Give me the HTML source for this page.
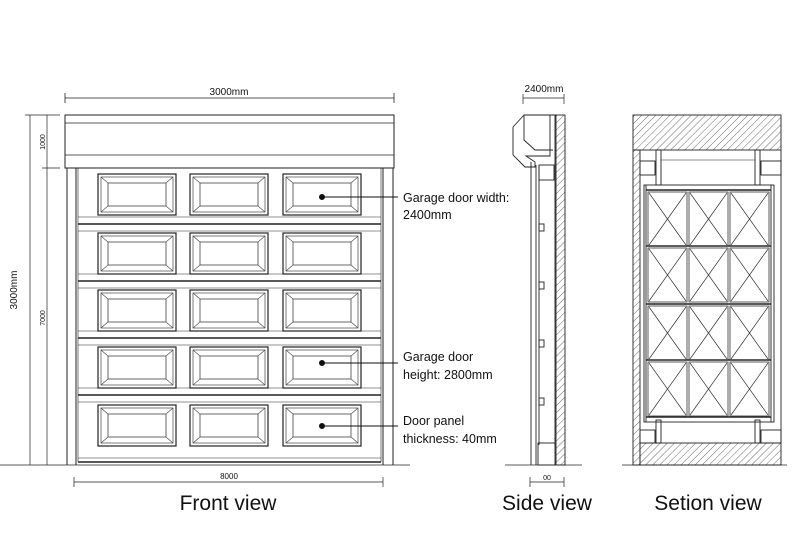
<!DOCTYPE html>
<html><head><meta charset="utf-8"><style>
html,body{margin:0;padding:0;background:#fff;}
svg{display:block;}
text{font-family:"Liberation Sans",sans-serif;fill:#111;}
</style></head><body>
<svg width="800" height="533" viewBox="0 0 800 533" xmlns="http://www.w3.org/2000/svg">
<defs>
<pattern id="h" width="5" height="5" patternUnits="userSpaceOnUse" patternTransform="rotate(45)">
<line x1="0" y1="0" x2="0" y2="5" stroke="#444" stroke-width="0.8"/>
</pattern>
<g id="pan">
<rect x="0" y="0" width="78" height="41" fill="none" stroke="#222" stroke-width="1.2"/>
<rect x="3" y="3" width="72" height="35" fill="none" stroke="#444" stroke-width="0.7"/>
<rect x="10" y="9" width="58" height="23" fill="none" stroke="#444" stroke-width="0.8"/>
<path d="M3 3L10 9M75 3L68 9M3 38L10 32M75 38L68 32" stroke="#444" stroke-width="0.6"/>
</g>
<g id="row">
<use href="#pan" x="98"/><use href="#pan" x="190"/><use href="#pan" x="283"/>
</g>
<g id="cell">
<rect x="0" y="0" width="39" height="54" fill="none" stroke="#333" stroke-width="0.8"/>
<path d="M1 1L38 53M38 1L1 53" stroke="#333" stroke-width="0.7"/>
</g>
</defs>
<g fill="none" stroke="#222" stroke-width="1">
<!-- front view -->
<line x1="65" y1="98" x2="394" y2="98" stroke-width="0.8"/>
<path d="M65 93V103M394 93V103" stroke-width="0.8"/>
<rect x="65" y="115" width="329" height="53"/>
<line x1="65" y1="123" x2="394" y2="123" stroke-width="0.7"/>
<line x1="65" y1="155" x2="394" y2="155" stroke-width="0.7"/>
<line x1="67" y1="168" x2="67" y2="465"/>
<line x1="76" y1="168" x2="76" y2="465"/>
<line x1="383" y1="168" x2="383" y2="465"/>
<line x1="393" y1="168" x2="393" y2="465"/>
<line x1="78" y1="168" x2="78" y2="462" stroke-width="0.6"/>
<line x1="381" y1="168" x2="381" y2="462" stroke-width="0.6"/>
<g stroke-width="1.6">
<line x1="78" y1="224" x2="381" y2="224"/><line x1="78" y1="281" x2="381" y2="281"/>
<line x1="78" y1="338" x2="381" y2="338"/><line x1="78" y1="395" x2="381" y2="395"/>
<line x1="78" y1="462" x2="381" y2="462"/>
</g>
<g stroke-width="0.6">
<line x1="78" y1="217" x2="381" y2="217"/><line x1="78" y1="231" x2="381" y2="231"/>
<line x1="78" y1="274" x2="381" y2="274"/><line x1="78" y1="288" x2="381" y2="288"/>
<line x1="78" y1="331" x2="381" y2="331"/><line x1="78" y1="345" x2="381" y2="345"/>
<line x1="78" y1="388" x2="381" y2="388"/><line x1="78" y1="402" x2="381" y2="402"/>
<line x1="78" y1="458" x2="381" y2="458"/>
</g>
<line x1="0" y1="465" x2="410" y2="465" stroke-width="0.8"/>
<line x1="74" y1="482" x2="383" y2="482" stroke-width="0.7"/>
<path d="M74 477V487M383 477V487" stroke-width="0.7"/>
<line x1="30" y1="115" x2="30" y2="465" stroke-width="0.7"/>
<line x1="47" y1="115" x2="47" y2="465" stroke-width="0.7"/>
<path d="M25 115H60M42 168H60" stroke-width="0.7"/>
</g>
<use href="#row" y="174"/><use href="#row" y="233"/><use href="#row" y="290"/><use href="#row" y="347"/><use href="#row" y="405"/>
<g stroke="#111" stroke-width="1">
<line x1="322" y1="197" x2="398" y2="197"/><circle cx="322" cy="197" r="2.5" fill="#111"/>
<line x1="322" y1="363" x2="398" y2="363"/><circle cx="322" cy="363" r="2.5" fill="#111"/>
<line x1="322" y1="426" x2="398" y2="426"/><circle cx="322" cy="426" r="2.5" fill="#111"/>
</g>
<text x="229" y="95" font-size="10" text-anchor="middle">3000mm</text>
<text x="229" y="479" font-size="8" text-anchor="middle" fill="#555">8000</text>
<text transform="translate(17,290) rotate(-90)" font-size="10" text-anchor="middle">3000mm</text>
<text transform="translate(45,142) rotate(-90)" font-size="7" text-anchor="middle" fill="#555">1000</text>
<text transform="translate(45,318) rotate(-90)" font-size="7" text-anchor="middle" fill="#555">7000</text>
<text x="403" y="202" font-size="12.5">Garage door width:</text>
<text x="403" y="219" font-size="12.5">2400mm</text>
<text x="403" y="361" font-size="12.5">Garage door</text>
<text x="403" y="379" font-size="12.5">height: 2800mm</text>
<text x="403" y="425" font-size="12.5">Door panel</text>
<text x="403" y="443" font-size="12.5">thickness: 40mm</text>
<text x="228" y="510" font-size="21" text-anchor="middle">Front view</text>
<!-- side view -->
<g fill="none" stroke="#222" stroke-width="0.9">
<line x1="523" y1="98" x2="564" y2="98" stroke-width="0.7"/>
<path d="M523 94V104M564 94V104" stroke-width="0.7"/>
<rect x="556" y="115" width="9" height="350" fill="url(#h)"/>
<path d="M524 115H556M513 127L524 115M513 127V155L525 167H535V162L526 156H550V115"/>
<path d="M524 115V140L535 150H553"/>
<line x1="531" y1="162" x2="531" y2="465"/>
<line x1="536" y1="165" x2="536" y2="465"/>
<line x1="539" y1="165" x2="539" y2="445"/>
<line x1="555" y1="115" x2="555" y2="445"/>
<rect x="539" y="165" width="15" height="15"/>
<rect x="539" y="224" width="5" height="7"/><rect x="539" y="282" width="5" height="7"/>
<rect x="539" y="340" width="5" height="7"/><rect x="539" y="398" width="5" height="7"/>
<rect x="538" y="443" width="17" height="22"/>
<line x1="505" y1="465" x2="582" y2="465" stroke-width="0.8"/>
<line x1="530" y1="482" x2="564" y2="482" stroke-width="0.7"/>
<path d="M530 477V487M564 477V487" stroke-width="0.7"/>
</g>
<text x="544" y="92" font-size="10" text-anchor="middle">2400mm</text>
<text x="547" y="480" font-size="7" text-anchor="middle" fill="#555">00</text>
<text x="547" y="510" font-size="21" text-anchor="middle">Side view</text>
<!-- section view -->
<g fill="none" stroke="#222" stroke-width="0.9">
<rect x="633" y="115" width="148" height="35" fill="url(#h)"/>
<rect x="633" y="150" width="7" height="315" fill="url(#h)"/>
<rect x="640" y="443" width="141" height="22" fill="url(#h)"/>
<line x1="781" y1="150" x2="781" y2="443"/>
<line x1="622" y1="465" x2="787" y2="465" stroke-width="0.8"/>
<rect x="640" y="161" width="15" height="14"/><rect x="761" y="161" width="20" height="14"/>
<rect x="656" y="150" width="5" height="35"/><rect x="755" y="150" width="5" height="35"/>
<line x1="661" y1="160" x2="755" y2="160" stroke-width="0.6"/>
<rect x="656" y="420" width="5" height="23"/><rect x="755" y="420" width="5" height="23"/>
<rect x="640" y="430" width="15" height="13"/><rect x="761" y="430" width="20" height="13"/>
<rect x="644" y="185" width="130" height="237"/>
<line x1="646" y1="185" x2="646" y2="422"/>
<line x1="771" y1="185" x2="771" y2="422"/>
<g stroke-width="1.4">
<line x1="646" y1="190" x2="771" y2="190"/><line x1="646" y1="246" x2="771" y2="246"/>
<line x1="646" y1="304" x2="771" y2="304"/><line x1="646" y1="360" x2="771" y2="360"/>
<line x1="646" y1="417" x2="771" y2="417"/>
</g>
</g>
<g>
<use href="#cell" x="648" y="192"/><use href="#cell" x="689" y="192"/><use href="#cell" x="730" y="192"/>
<use href="#cell" x="648" y="248"/><use href="#cell" x="689" y="248"/><use href="#cell" x="730" y="248"/>
<use href="#cell" x="648" y="306"/><use href="#cell" x="689" y="306"/><use href="#cell" x="730" y="306"/>
<use href="#cell" x="648" y="362"/><use href="#cell" x="689" y="362"/><use href="#cell" x="730" y="362"/>
</g>
<text x="708" y="510" font-size="21" text-anchor="middle">Setion view</text>
</svg>
</body></html>
